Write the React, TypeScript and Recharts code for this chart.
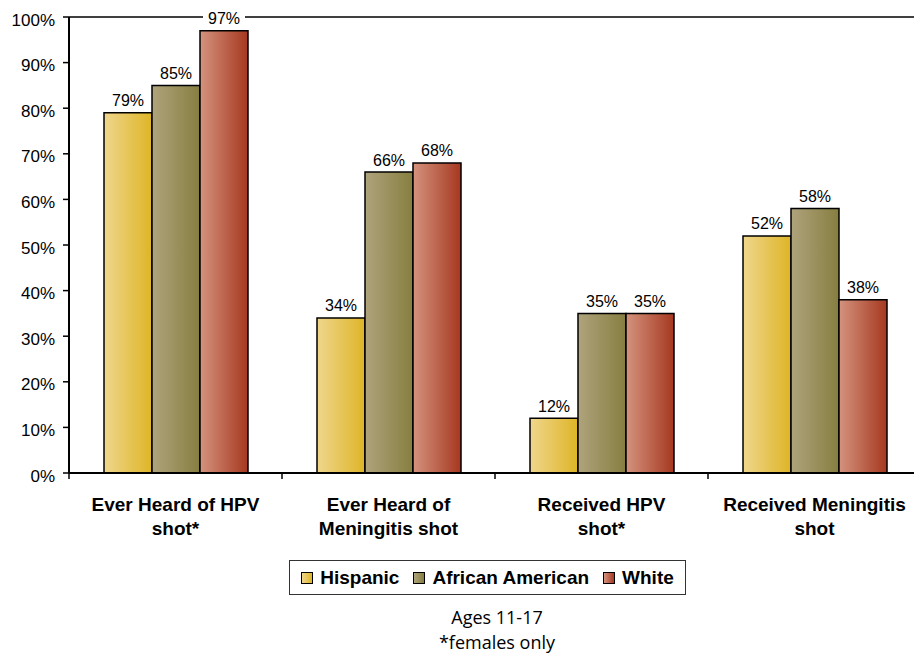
import React from 'react';
import { BarChart, Bar, XAxis, YAxis, ReferenceLine, LabelList, Legend } from 'recharts';

const categoryLines: string[][] = [
  ['Ever Heard of HPV', 'shot*'],
  ['Ever Heard of', 'Meningitis shot'],
  ['Received HPV', 'shot*'],
  ['Received Meningitis', 'shot'],
];
const categories = categoryLines.map((l) => l.join(' '));
const hispanic = [79, 34, 12, 52];
const africanAmerican = [85, 66, 35, 58];
const white = [97, 68, 35, 38];
const yTicks = [0, 10, 20, 30, 40, 50, 60, 70, 80, 90, 100];
const seriesNames = ['Hispanic', 'African American', 'White'];
const footnotes = ['Ages 11-17', '*females only'];

const FONT = '"Liberation Sans", Arial, Helvetica, sans-serif';
const gradientStops: Record<string, [string, string]> = {
  Hispanic: ['#efd68d', '#deb526'],
  'African American': ['#afa37c', '#867e40'],
  White: ['#d4937e', '#a63820'],
};
const gradientIds: Record<string, string> = {
  Hispanic: 'gradHispanic',
  'African American': 'gradAfricanAmerican',
  White: 'gradWhite',
};

const data = categories.map((category, i) => ({
  category,
  hispanic: hispanic[i],
  africanAmerican: africanAmerican[i],
  white: white[i],
}));

const CategoryTick = (props: any) => {
  const { x, y, payload } = props;
  const idx = categories.indexOf(payload?.value);
  const lines = idx >= 0 ? categoryLines[idx] : [String(payload?.value)];
  const count = Number(props.visibleTicksCount) || categories.length;
  let half = Number(payload?.offset);
  if (!half || !isFinite(half)) half = Number(props.width) / count / 2;
  const boundaries = [x - half];
  if (idx === count - 1) boundaries.push(x + half);
  return (
    <g>
      {isFinite(half) &&
        boundaries.map((bx, i) => (
          <line key={i} x1={bx} y1={y} x2={bx} y2={y + 6} stroke="#000" strokeWidth={1.5} />
        ))}
      <text x={x} y={y} textAnchor="middle" fontFamily={FONT} fontSize={19} fontWeight="bold" fill="#000">
        {lines.map((l, i) => (
          <tspan key={i} x={x} dy={i === 0 ? 38 : 24}>
            {l}
          </tspan>
        ))}
      </text>
    </g>
  );
};

const PercentTick = (props: any) => {
  const { x, y, payload } = props;
  return (
    <text x={x} y={y} dy={8.5} textAnchor="end" fontFamily={FONT} fontSize={17} fill="#000">
      {payload?.value}%
    </text>
  );
};

const ValueLabel = (props: any) => {
  const vb = props.viewBox || {};
  const x = Number(props.x ?? vb.x);
  const y = Number(props.y ?? vb.y);
  const width = Number(props.width ?? vb.width);
  const cx = x + width / 2;
  const by = y - 6.5;
  return (
    <g>
      <rect x={cx - 21} y={by - 14} width={42} height={18} fill="#fff" />
      <text x={cx} y={by} textAnchor="middle" fontFamily={FONT} fontSize={16} fill="#000">
        {props.value}%
      </text>
    </g>
  );
};

const LegendBox = () => {
  return (
    <div
      style={{
        border: '1px solid #333',
        boxSizing: 'border-box',
        width: 397,
        height: 35,
        display: 'flex',
        alignItems: 'center',
        justifyContent: 'center',
        gap: 14,
        fontFamily: FONT,
        fontWeight: 'bold',
        fontSize: 19,
        color: '#000',
        background: '#fff',
      }}
    >
      {seriesNames.map((name) => {
        const g = gradientStops[name];
        return (
          <div key={name} style={{ display: 'flex', alignItems: 'center' }}>
            <span
              style={{
                display: 'inline-block',
                width: 12,
                height: 12,
                boxSizing: 'border-box',
                border: '1px solid #000',
                background: `linear-gradient(to right, ${g[0]}, ${g[1]})`,
                marginRight: 7,
              }}
            />
            <span>{name}</span>
          </div>
        );
      })}
    </div>
  );
};

export default function App() {
  return (
    <div
      style={{
        position: 'absolute',
        left: 0,
        top: 0,
        width: 914,
        height: 654,
        overflow: 'hidden',
        background: '#fff',
      }}
    >
      <BarChart
        width={921}
        height={654}
        data={data}
        margin={{ top: 17, right: 0, bottom: 101, left: 0 }}
        barCategoryGap={35}
        barGap={0}
      >
        <defs>
          {seriesNames.map((n) => (
            <linearGradient key={n} id={gradientIds[n]} x1="0" y1="0" x2="1" y2="0">
              <stop offset="0%" stopColor={gradientStops[n][0]} />
              <stop offset="100%" stopColor={gradientStops[n][1]} />
            </linearGradient>
          ))}
        </defs>
        <XAxis
          dataKey="category"
          type="category"
          height={80}
          interval={0}
          tickSize={0}
          tickMargin={0}
          tickLine={false}
          axisLine={{ stroke: '#000', strokeWidth: 2 }}
          tick={<CategoryTick />}
        />
        <YAxis
          width={69}
          domain={[0, 100]}
          ticks={yTicks}
          interval={0}
          tickSize={6}
          tickMargin={8}
          axisLine={{ stroke: '#000', strokeWidth: 2 }}
          tickLine={{ stroke: '#000', strokeWidth: 1.5 }}
          tick={<PercentTick />}
        />
        <ReferenceLine y={100} stroke="#000" strokeWidth={1.5} />
        <Legend
          verticalAlign="middle"
          align="center"
          layout="horizontal"
          content={<LegendBox />}
          wrapperStyle={{ position: 'absolute', left: 289, top: 560, width: 397, height: 35 }}
        />
        <Bar
          dataKey="hispanic"
          name="Hispanic"
          fill={`url(#${gradientIds.Hispanic})`}
          stroke="#000"
          strokeWidth={1.5}
          isAnimationActive={false}
        >
          <LabelList dataKey="hispanic" content={<ValueLabel />} />
        </Bar>
        <Bar
          dataKey="africanAmerican"
          name="African American"
          fill={`url(#${gradientIds['African American']})`}
          stroke="#000"
          strokeWidth={1.5}
          isAnimationActive={false}
        >
          <LabelList dataKey="africanAmerican" content={<ValueLabel />} />
        </Bar>
        <Bar
          dataKey="white"
          name="White"
          fill={`url(#${gradientIds.White})`}
          stroke="#000"
          strokeWidth={1.5}
          isAnimationActive={false}
        >
          <LabelList dataKey="white" content={<ValueLabel />} />
        </Bar>
      </BarChart>
      <div
        style={{
          position: 'absolute',
          left: 297,
          top: 605,
          width: 400,
          textAlign: 'center',
          fontFamily: '"Open Sans", "Noto Sans", sans-serif',
          fontSize: 18,
          lineHeight: '25px',
          color: '#000',
        }}
      >
        {footnotes.map((f) => (
          <div key={f}>{f}</div>
        ))}
      </div>
    </div>
  );
}
